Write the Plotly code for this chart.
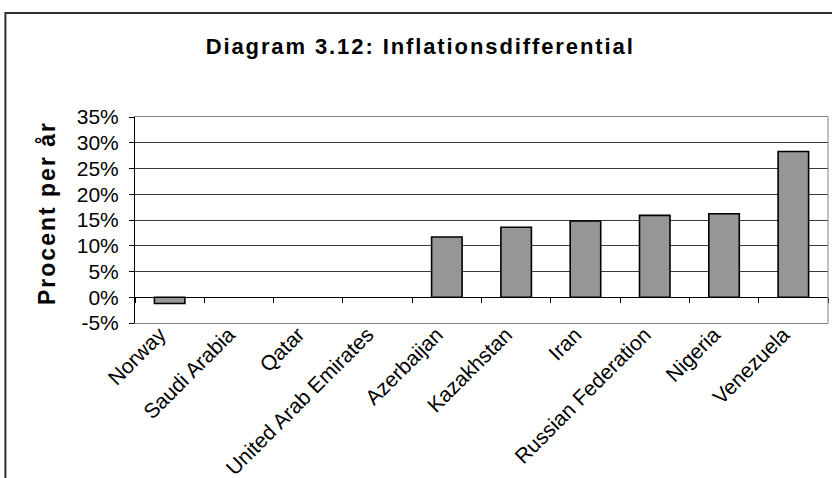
import plotly.graph_objects as go

# Inflation differential per country, percent per year
countries = ["Norway", "Saudi Arabia", "Qatar", "United Arab Emirates", "Azerbaijan",
             "Kazakhstan", "Iran", "Russian Federation", "Nigeria", "Venezuela"]
inflation_diff = [-1.2, None, None, None, 11.7, 13.6, 14.8, 15.9, 16.2, 28.3]

y_ticks = [-5, 0, 5, 10, 15, 20, 25, 30, 35]
y_tick_labels = ["-5%", "0%", "5%", "10%", "15%", "20%", "25%", "30%", "35%"]
y_range = [-5, 35]

title_text = "Diagram 3.12: Inflationsdifferential"
y_title = "Procent per år"

FONT = "Liberation Sans, Arial, sans-serif"

fig = go.Figure()

fig.add_trace(go.Bar(
    x=countries, y=inflation_diff,
    marker=dict(color="#969696", line=dict(color="black", width=1.6)),
    hoverinfo="x+y", showlegend=False,
))

# invisible companion trace so the zero-crossing category axis gets its categories
fig.add_trace(go.Scatter(
    x=countries, y=[0] * len(countries), xaxis="x2", mode="markers",
    marker=dict(opacity=0), hoverinfo="skip", showlegend=False,
))

zero_pos = (0 - y_range[0]) / (y_range[1] - y_range[0])

fig.update_layout(
    width=832, height=478,
    margin=dict(l=135, r=4, t=117, b=155),
    paper_bgcolor="white", plot_bgcolor="white",
    bargap=0.56,
    font=dict(family=FONT, color="black"),
    title=dict(
        text=f'<span style="letter-spacing:1.9px">{title_text}</span>',
        font=dict(family=FONT, size=22, color="black", weight="bold"),
        x=0.505, xanchor="center", xref="container",
        y=0.904, yanchor="middle", yref="container",
    ),
    xaxis=dict(
        type="category", categoryorder="array", categoryarray=countries,
        range=[-0.5, len(countries) - 0.5], automargin=False,
        showline=True, linecolor="#808080", linewidth=1, mirror=True,
        ticks="", tickangle=-45, tickfont=dict(family=FONT, size=21),
        ticklabelstandoff=-10, ticklabelshift=-10,
        showgrid=False, zeroline=False,
    ),
    xaxis2=dict(
        type="category", categoryorder="array", categoryarray=countries,
        overlaying="x", anchor="free", position=zero_pos,
        range=[-0.5, len(countries) - 0.5], automargin=False,
        showline=True, linecolor="black", linewidth=1,
        ticks="outside", ticklen=5, tickcolor="black", tickwidth=1,
        tickson="boundaries", showticklabels=False, showgrid=False,
    ),
    yaxis=dict(
        range=y_range, tickmode="array", tickvals=y_ticks, ticktext=y_tick_labels,
        automargin=False,
        showline=True, linecolor="black", linewidth=1,
        ticks="outside", ticklen=5, tickcolor="black",
        tickfont=dict(family=FONT, size=21), ticklabelstandoff=6,
        showgrid=True, gridcolor="#3c3c3c", gridwidth=1,
        zeroline=False,
    ),
    annotations=[
        dict(
            text=f'<span style="letter-spacing:2px">{y_title}</span>',
            font=dict(family=FONT, size=23, color="black", weight="bold"),
            textangle=-90, showarrow=False,
            xref="paper", yref="paper", x=-0.127, y=0.534,
            xanchor="center", yanchor="middle",
        ),
    ],
    shapes=[
        # right edge of the plot frame
        dict(type="line", xref="paper", yref="paper", x0=1, x1=1, y0=0, y1=1,
             line=dict(color="#808080", width=1), layer="above"),
        # outer chart border
        dict(type="rect", xref="paper", yref="paper",
             x0=-0.187, x1=1.03, y0=-0.9, y1=1.505,
             line=dict(color="#303030", width=2), fillcolor="rgba(0,0,0,0)",
             layer="below"),
    ],
)

fig.write_html("out.html")
